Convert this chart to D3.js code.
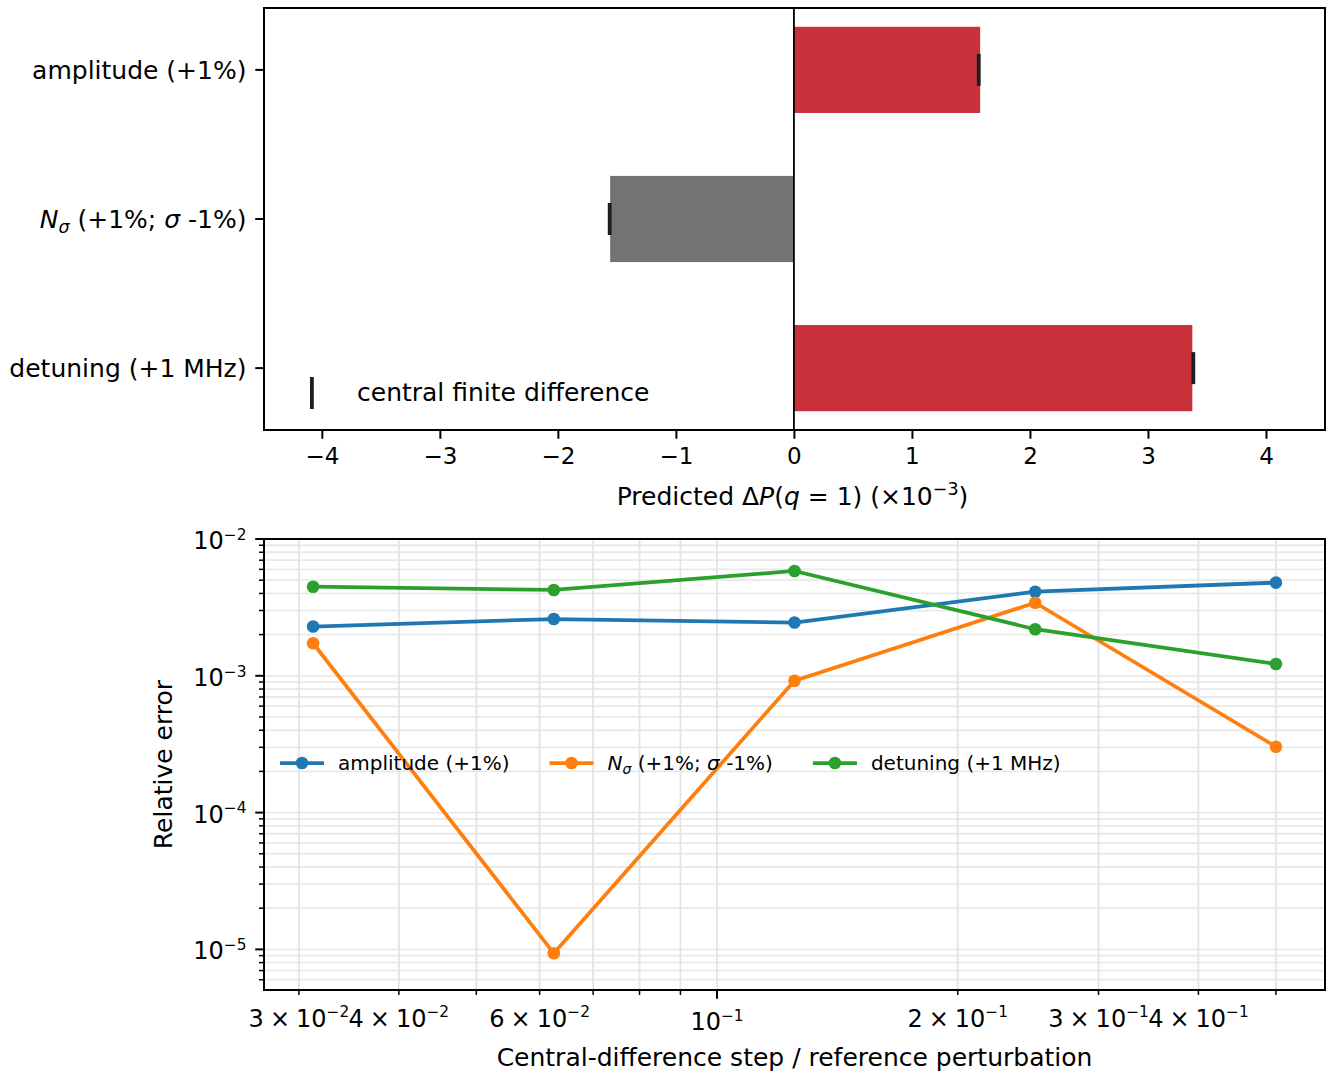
<!DOCTYPE html>
<html>
<head>
<meta charset="utf-8">
<script src="https://cdn.jsdelivr.net/npm/d3@7"></script>
<style>
body { margin: 0; background: #fff; }
text { font-family: "DejaVu Sans", sans-serif; fill: #000; }
</style>
</head>
<body>
<div id="chart"></div>
<script>
// top panel: predicted change per perturbation
const categories = ["amplitude (+1%)", "Nσ (+1%; σ -1%)", "detuning (+1 MHz)"];
const predicted = [1.578, -1.557, 3.376];
const centralFD = [1.566, -1.561, 3.384];
const xTicksTop = [-4, -3, -2, -1, 0, 1, 2, 3, 4];

// bottom panel: relative error vs step
const steps = [0.03125, 0.0625, 0.125, 0.25, 0.5];
const errAmplitude = [2.29e-3, 2.60e-3, 2.45e-3, 4.12e-3, 4.80e-3];
const errNsigma = [1.73e-3, 9.36e-6, 9.21e-4, 3.42e-3, 3.03e-4];
const errDetuning = [4.48e-3, 4.24e-3, 5.84e-3, 2.19e-3, 1.22e-3];
const seriesNames = ["amplitude (+1%)", "Nσ (+1%; σ -1%)", "detuning (+1 MHz)"];
const seriesColors = ["#1f77b4", "#ff7f0e", "#2ca02c"];
const yMajorExp = [-2, -3, -4, -5];
const xMinorTicks = [0.03, 0.04, 0.05, 0.06, 0.07, 0.08, 0.09, 0.2, 0.3, 0.4, 0.5];
const xMinorLabels = [[0.03, "3", -2], [0.04, "4", -2], [0.06, "6", -2], [0.2, "2", -1], [0.3, "3", -1], [0.4, "4", -1]];
const xMajorLabels = [[0.1, -1]];

const W = 1332, H = 1080;
const L = 264, R = 1325;
const top1 = 8, bot1 = 430;
const top2 = 539, bot2 = 990;
const tickLen = 8.75, minorLen = 5, pad = 8.75;
const logFs = 24;

const svg = d3.select("#chart").append("svg").attr("width", W).attr("height", H);

// label with N_sigma math
function richLabel(sel, s, fs) {
	if (s.startsWith("Nσ")) {
		const sub = fs * 0.2;
		sel.append("tspan").attr("font-style", "italic").text("N");
		sel.append("tspan").attr("font-style", "italic").attr("font-size", fs * 0.7).attr("dy", sub).text("σ");
		sel.append("tspan").attr("dy", -sub).text(" (+1%; ");
		sel.append("tspan").attr("font-style", "italic").text("σ");
		sel.append("tspan").text(" -1%)");
	} else {
		sel.text(s);
	}
}

function sciLabel(sel, mant, exp, fs) {
	if (mant) {
		sel.append("tspan").text(mant);
		sel.append("tspan").attr("dx", fs * 0.25).text("×");
		sel.append("tspan").attr("dx", fs * 0.25).text("10");
	} else {
		sel.append("tspan").text("10");
	}
	sel.append("tspan").attr("font-size", fs * 0.64).attr("dy", -fs * 0.38).text("−" + Math.abs(exp));
}

// ---------- top panel ----------
const x1 = d3.scaleLinear().domain([-4.49, 4.5]).range([L, R]);
const y1 = d3.scaleLinear().domain([-0.415, 2.415]).range([top1, bot1]);
const barH = 0.578;

const g1 = svg.append("g");
g1.selectAll("rect.bar")
	.data(predicted)
	.enter()
	.append("rect")
	.attr("x", (d) => x1(Math.min(0, d)))
	.attr("width", (d) => Math.abs(x1(d) - x1(0)))
	.attr("y", (d, i) => y1(i - barH / 2))
	.attr("height", y1(barH) - y1(0))
	.attr("fill", (d) => (d >= 0 ? "#c8303a" : "#737373"));

g1.append("line")
	.attr("x1", x1(0)).attr("x2", x1(0))
	.attr("y1", top1).attr("y2", bot1)
	.attr("stroke", "#000").attr("stroke-width", 1.8);

g1.selectAll("rect.fd")
	.data(centralFD)
	.enter()
	.append("rect")
	.attr("x", (d) => x1(d) - 1.9)
	.attr("y", (d, i) => y1(i) - 16)
	.attr("width", 3.8)
	.attr("height", 32)
	.attr("fill", "#1e1e22");

// legend (no frame)
g1.append("rect").attr("x", 310).attr("y", 377).attr("width", 3.8).attr("height", 32).attr("fill", "#1e1e22");
g1.append("text").attr("x", 357).attr("y", 401).attr("font-size", 25).text("central finite difference");

const ax1 = g1.append("g")
	.attr("transform", `translate(0,${bot1})`)
	.call(d3.axisBottom(x1).tickValues(xTicksTop).tickSize(tickLen).tickPadding(pad)
		.tickFormat((d) => (d < 0 ? "−" + Math.abs(d) : String(d))));
ax1.select(".domain").remove();
ax1.selectAll("line").attr("stroke-width", 2);
ax1.selectAll("text").attr("font-size", 23).attr("font-family", "DejaVu Sans");

categories.forEach((c, i) => {
	g1.append("line").attr("x1", L - tickLen).attr("x2", L).attr("y1", y1(i)).attr("y2", y1(i))
		.attr("stroke", "#000").attr("stroke-width", 2);
	const t = g1.append("text").attr("x", L - tickLen - pad).attr("y", y1(i) + 9)
		.attr("text-anchor", "end").attr("font-size", 25);
	richLabel(t, c, 25);
});

g1.append("rect").attr("x", L).attr("y", top1).attr("width", R - L).attr("height", bot1 - top1)
	.attr("fill", "none").attr("stroke", "#000").attr("stroke-width", 2);

const xl1 = g1.append("text").attr("x", (L + R) / 2 - 2).attr("y", 505).attr("text-anchor", "middle").attr("font-size", 25);
xl1.append("tspan").text("Predicted Δ");
xl1.append("tspan").attr("font-style", "italic").text("P");
xl1.append("tspan").text("(");
xl1.append("tspan").attr("font-style", "italic").text("q");
xl1.append("tspan").text(" = 1) (×10");
xl1.append("tspan").attr("font-size", 17.5).attr("dy", -10).text("−3");
xl1.append("tspan").attr("dy", 10).text(")");

// ---------- bottom panel ----------
const x2 = d3.scaleLog().domain([0.02713, 0.5759]).range([L, R]);
const y2 = d3.scaleLog().domain([Math.pow(10, -5.297), 1e-2]).range([bot2, top2]);
const g2 = svg.append("g");

const yMinor = [];
[-6, -5, -4, -3].forEach((e) => {
	for (let m = 2; m <= 9; m++) {
		const v = m * Math.pow(10, e);
		if (v >= y2.domain()[0] && v < 1e-2) yMinor.push(v);
	}
});
const yMajor = yMajorExp.map((e) => Math.pow(10, e));

g2.selectAll("line.hg")
	.data(yMinor.concat(yMajor))
	.enter()
	.append("line")
	.attr("x1", L).attr("x2", R)
	.attr("y1", (d) => y2(d)).attr("y2", (d) => y2(d))
	.attr("stroke", "#e9e9e9").attr("stroke-width", 1.8);

g2.selectAll("line.vg")
	.data(xMinorTicks.concat([0.1]))
	.enter()
	.append("line")
	.attr("x1", (d) => x2(d)).attr("x2", (d) => x2(d))
	.attr("y1", top2).attr("y2", bot2)
	.attr("stroke", "#e4e4e4").attr("stroke-width", 1.8);

const series = [errAmplitude, errNsigma, errDetuning];
const line = d3.line().x((d, i) => x2(steps[i])).y((d) => y2(d));
series.forEach((s, k) => {
	g2.append("path").attr("d", line(s)).attr("fill", "none")
		.attr("stroke", seriesColors[k]).attr("stroke-width", 3.75).attr("stroke-linejoin", "round");
	g2.selectAll(null).data(s).enter().append("circle")
		.attr("cx", (d, i) => x2(steps[i])).attr("cy", (d) => y2(d)).attr("r", 6.3)
		.attr("fill", seriesColors[k]);
});

// legend (no frame, 3 columns)
let lx = 280;
const ly = 763;
seriesNames.forEach((n, k) => {
	g2.append("line").attr("x1", lx).attr("x2", lx + 44).attr("y1", ly).attr("y2", ly)
		.attr("stroke", seriesColors[k]).attr("stroke-width", 3.75);
	g2.append("circle").attr("cx", lx + 22).attr("cy", ly).attr("r", 6.3).attr("fill", seriesColors[k]);
	const t = g2.append("text").attr("x", lx + 58).attr("y", ly + 7).attr("font-size", 20);
	richLabel(t, n, 20);
	lx = lx + 58 + t.node().getComputedTextLength() + 40;
});

// y ticks
yMajor.forEach((v, i) => {
	g2.append("line").attr("x1", L - tickLen).attr("x2", L).attr("y1", y2(v)).attr("y2", y2(v))
		.attr("stroke", "#000").attr("stroke-width", 2);
	const t = g2.append("text").attr("x", L - tickLen - pad).attr("y", y2(v) + 10)
		.attr("text-anchor", "end").attr("font-size", logFs);
	sciLabel(t, null, yMajorExp[i], logFs);
});
yMinor.forEach((v) => {
	g2.append("line").attr("x1", L - minorLen).attr("x2", L).attr("y1", y2(v)).attr("y2", y2(v))
		.attr("stroke", "#000").attr("stroke-width", 1.5);
});

// x ticks
xMinorTicks.forEach((v) => {
	g2.append("line").attr("x1", x2(v)).attr("x2", x2(v)).attr("y1", bot2).attr("y2", bot2 + minorLen)
		.attr("stroke", "#000").attr("stroke-width", 1.5);
});
xMajorLabels.forEach(([v, e]) => {
	g2.append("line").attr("x1", x2(v)).attr("x2", x2(v)).attr("y1", bot2).attr("y2", bot2 + tickLen)
		.attr("stroke", "#000").attr("stroke-width", 2);
	const t = g2.append("text").attr("x", x2(v)).attr("y", bot2 + 40).attr("text-anchor", "middle").attr("font-size", logFs);
	sciLabel(t, null, e, logFs);
});
xMinorLabels.forEach(([v, m, e]) => {
	const t = g2.append("text").attr("x", x2(v)).attr("y", bot2 + 36.5).attr("text-anchor", "middle").attr("font-size", logFs);
	sciLabel(t, m, e, logFs);
});

g2.append("rect").attr("x", L).attr("y", top2).attr("width", R - L).attr("height", bot2 - top2)
	.attr("fill", "none").attr("stroke", "#000").attr("stroke-width", 2);

g2.append("text").attr("x", (L + R) / 2).attr("y", 1066).attr("text-anchor", "middle").attr("font-size", 25)
	.text("Central-difference step / reference perturbation");
g2.append("text").attr("transform", `translate(172,${(top2 + bot2) / 2}) rotate(-90)`)
	.attr("text-anchor", "middle").attr("font-size", 25).text("Relative error");
</script>
</body>
</html>
